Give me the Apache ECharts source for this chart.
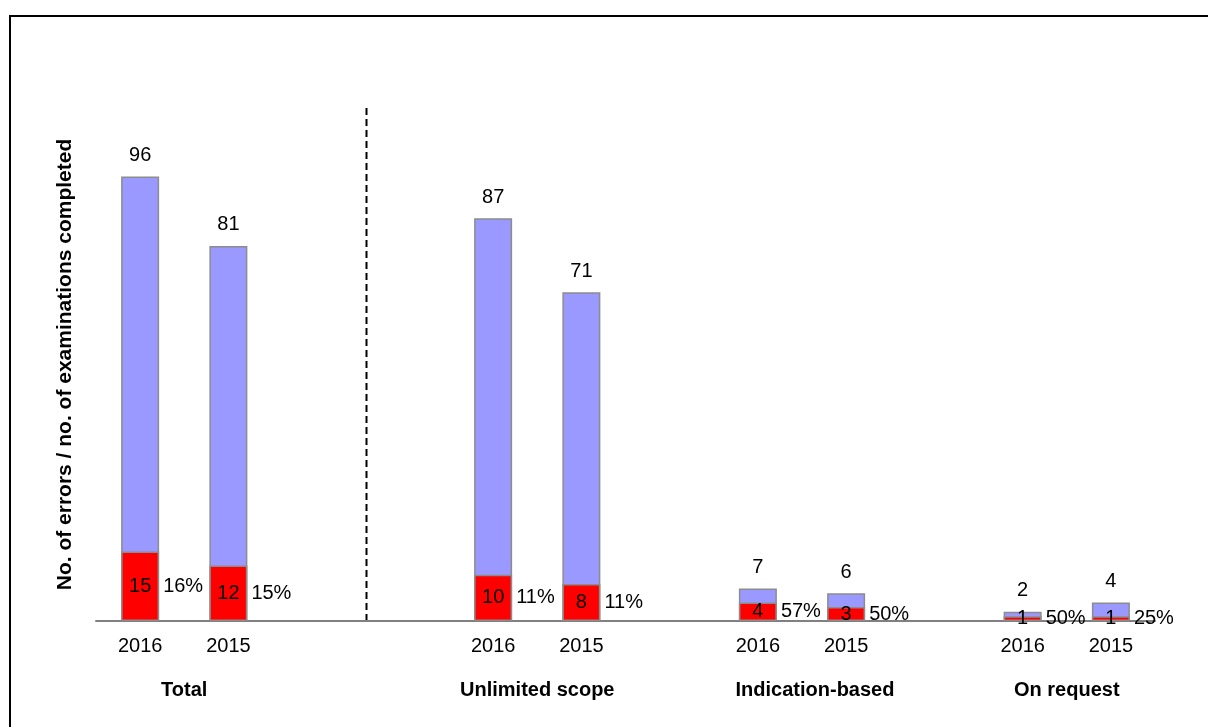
<!DOCTYPE html>
<html>
<head>
<meta charset="utf-8">
<script src="https://cdn.jsdelivr.net/npm/echarts@6/dist/echarts.min.js"></script>
<style>
  html, body { margin: 0; padding: 0; background: #fff; }
  #chart { width: 1208px; height: 727px; }
</style>
</head>
<body>
<div id="chart"></div>
<script>
// slots along the x axis, empty ones are the gaps between groups
var years = ['2016', '2015', '', '', '2016', '2015', '', '2016', '2015', '', '2016', '2015'];
var examinations = [96, 81, '-', '-', 87, 71, '-', 7, 6, '-', 2, 4];
var errors = [15, 12, '-', '-', 10, 8, '-', 4, 3, '-', 1, 1];
var errorShare = ['16%', '15%', '', '', '11%', '11%', '', '57%', '50%', '', '50%', '25%'];
var groups = [
    { name: 'Total', from: 0, to: 1 },
    { name: 'Unlimited scope', from: 4, to: 5 },
    { name: 'Indication-based', from: 7, to: 8, shift: 13 },
    { name: 'On request', from: 10, to: 11 }
];

var dom = document.getElementById('chart');
var chart = echarts.init(dom);
var font = 'Liberation Sans, Arial, sans-serif';

var option = {
    animation: false,
    textStyle: { fontFamily: font },
    grid: { left: 96, right: 53, top: 158, bottom: 106 },
    xAxis: {
        type: 'category',
        data: years,
        axisLine: { lineStyle: { color: '#808080', width: 2 } },
        axisTick: { show: false },
        axisLabel: { color: '#000', fontSize: 20, margin: 15, interval: 0, fontFamily: font }
    },
    yAxis: {
        type: 'value',
        min: 0,
        max: 100,
        name: 'No. of errors / no. of examinations completed',
        nameLocation: 'middle',
        nameGap: 20,
        nameRotate: 90,
        nameTextStyle: {
            color: '#000',
            fontSize: 21,
            fontWeight: 'bold',
            fontFamily: font,
            padding: [0, 0, 0, 50]
        },
        axisLine: { show: false },
        axisTick: { show: false },
        axisLabel: { show: false },
        splitLine: { show: false }
    },
    series: [
        {
            name: 'Examinations',
            type: 'bar',
            data: examinations,
            barWidth: 38,
            barGap: '-100%',
            itemStyle: { color: '#9999ff', borderColor: '#8c8c8c', borderWidth: 1.5 },
            label: { show: true, position: 'top', distance: 11, color: '#000', fontSize: 20 }
        },
        {
            name: 'Errors',
            type: 'bar',
            data: errors,
            barWidth: 38,
            barGap: '-100%',
            itemStyle: { color: '#ff0000', borderColor: '#8c8c8c', borderWidth: 1.5 },
            label: { show: true, position: 'inside', color: '#000', fontSize: 20 }
        },
        {
            name: 'Share',
            type: 'bar',
            data: errors,
            barWidth: 38,
            barGap: '-100%',
            silent: true,
            itemStyle: { color: 'rgba(0,0,0,0)' },
            label: {
                show: true,
                position: 'right',
                distance: 4,
                color: '#000',
                fontSize: 20,
                formatter: function (p) { return errorShare[p.dataIndex]; }
            }
        }
    ]
};

chart.setOption(option);

// group names, divider and frame placed from the axis scale
var gfx = [];
var baseY = chart.convertToPixel({ yAxisIndex: 0 }, 0);
groups.forEach(function (g) {
    var x1 = chart.convertToPixel({ xAxisIndex: 0 }, g.from);
    var x2 = chart.convertToPixel({ xAxisIndex: 0 }, g.to);
    gfx.push({
        type: 'text',
        x: (x1 + x2) / 2 + (g.shift || 0),
        y: baseY + 69,
        style: {
            text: g.name,
            fill: '#000',
            font: 'bold 20px ' + font,
            textAlign: 'center',
            textVerticalAlign: 'middle'
        }
    });
});
var xa = chart.convertToPixel({ xAxisIndex: 0 }, 2);
var xb = chart.convertToPixel({ xAxisIndex: 0 }, 3);
var divX = Math.round(xa + (xb - xa) * 0.57) - 0.5;
gfx.push({
    type: 'line',
    shape: { x1: divX, y1: 108, x2: divX, y2: baseY },
    style: { stroke: '#000', lineWidth: 2, lineDash: [7, 4] }
});
gfx.push({
    type: 'rect',
    shape: { x: 10, y: 16, width: 1400, height: 900 },
    style: { fill: 'none', stroke: '#000', lineWidth: 2 }
});
chart.setOption({ graphic: gfx });

window.addEventListener('resize', function () {
    chart.resize();
});
</script>
</body>
</html>
